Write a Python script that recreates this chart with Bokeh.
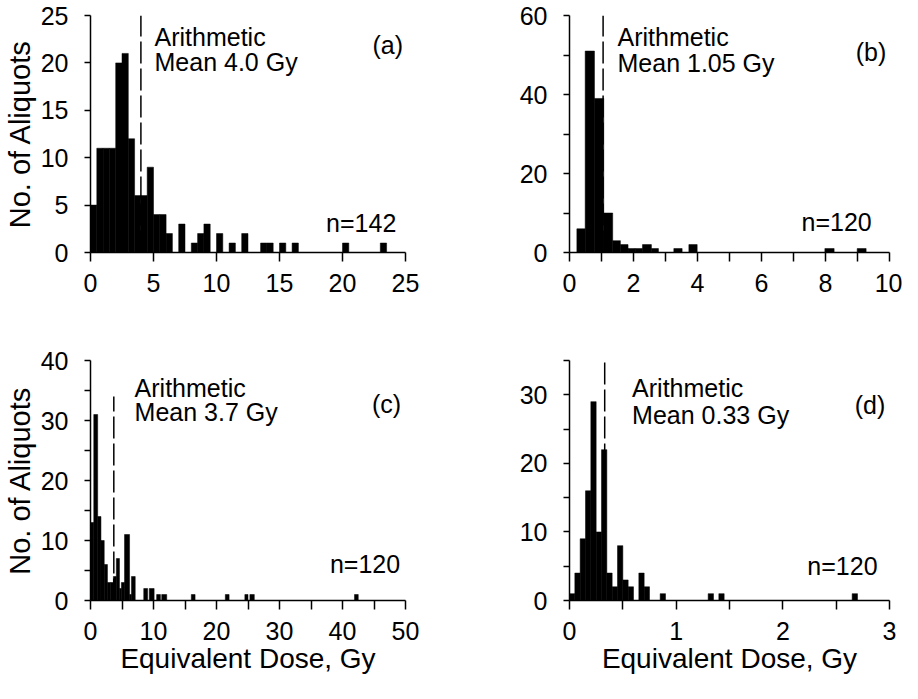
from bokeh.plotting import figure
from bokeh.models import FixedTicker, Label, Range1d
from bokeh.layouts import column, row
from bokeh.embed import file_html
from bokeh.resources import INLINE

# ---------------- data ----------------
# Panel (a)
a_left = [0, 0.5, 1.0, 1.5, 2.0, 2.5, 3.0, 3.5, 4.0, 4.5, 5.0, 5.5, 6.0, 7.0, 8.0, 8.5,
          9.0, 10.0, 11.0, 12.0, 13.5, 14.0, 15.0, 16.0, 20.0, 23.0]
a_right = [x + 0.5 for x in a_left]
a_count = [5, 11, 11, 11, 20, 21, 12, 6, 6, 9, 4, 4, 2, 3, 1, 2, 3, 2, 1, 2, 1, 1, 1, 1, 1, 1]

# Panel (b)
b_left = [0.23, 0.49, 0.78, 1.07, 1.35, 1.59, 1.83, 2.05, 2.28, 2.56, 3.26, 3.73, 7.98, 8.99]
b_right = [0.49, 0.78, 1.07, 1.35, 1.59, 1.83, 2.05, 2.28, 2.56, 2.78, 3.52, 3.99, 8.27, 9.27]
b_count = [6, 51, 39, 10, 3, 2, 1, 1, 2, 1, 1, 2, 1, 1]

# Panel (c)
c_left = [0.0, 0.52, 1.14, 1.66, 2.18, 2.69, 3.21, 3.63, 4.10, 4.60, 4.90, 5.40, 6.20, 6.50,
          8.45, 9.33, 10.5, 11.3, 16.0, 21.4, 24.5, 25.3, 41.9]
c_right = [0.52, 1.14, 1.66, 2.18, 2.69, 3.21, 3.63, 4.10, 4.60, 4.90, 5.40, 6.20, 6.50, 7.10,
           9.07, 10.1, 11.1, 12.1, 16.6, 22.0, 25.0, 26.0, 42.5]
c_count = [13, 31, 14, 10, 6, 3, 3, 4, 7, 2, 3, 11, 1, 4, 2, 2, 1, 1, 1, 1, 1, 1, 1]

# Panel (d)
d_left = [0, 0.05, 0.1, 0.15, 0.2, 0.25, 0.3, 0.35, 0.4, 0.45, 0.5, 0.55, 0.65, 0.7, 0.85,
          1.3, 1.4, 2.65]
d_right = [x + 0.05 for x in d_left]
d_count = [1, 4, 9, 16, 29, 10, 22, 4, 2, 8, 3, 2, 4, 2, 1, 1, 1, 1]

means = [4.0, 1.05, 3.7, 0.33]
mean_tops = [25, 60, 34, 35]
mean_texts = ["Mean 4.0 Gy", "Mean 1.05 Gy", "Mean 3.7 Gy", "Mean 0.33 Gy"]
n_texts = ["n=142", "n=120", "n=120", "n=120"]
panel_tags = ["(a)", "(b)", "(c)", "(d)"]

x_ranges = [(0, 25), (0, 10), (0, 50), (0, 3)]
y_ranges = [(0, 25), (0, 60), (0, 40), (0, 35)]
x_major = [[0, 5, 10, 15, 20, 25], [0, 2, 4, 6, 8, 10], [0, 10, 20, 30, 40, 50], [0, 1, 2, 3]]
x_minor = [[], [1, 3, 5, 7, 9], [5, 15, 25, 35, 45], [0.5, 1.5, 2.5]]
y_major = [[0, 5, 10, 15, 20, 25], [0, 20, 40, 60], [0, 10, 20, 30, 40], [0, 10, 20, 30]]
y_minor = [[], [10, 30, 50], [5, 15, 25, 35], [5, 15, 25, 35]]

# label positions (data coords)
arith_pos = [(5.08, 22.7, 20.1), (1.5, 54.6, 48.0), (7.0, 35.5, 31.4), (0.587, 31.0, 27.0)]
tag_pos = [(24.8, 21.9), (9.9, 50.8), (49.3, 32.7), (2.96, 28.5)]
n_pos = [(18.7, 3.1), (7.25, 7.6), (38.0, 6.1), (2.23, 5.1)]

FONT = "Liberation Sans"

data = [(a_left, a_right, a_count), (b_left, b_right, b_count),
        (c_left, c_right, c_count), (d_left, d_right, d_count)]

geom = [
    dict(width=450, height=332, min_border_left=85, min_border_right=45, min_border_top=15, min_border_bottom=80),
    dict(width=452, height=332, min_border_left=119, min_border_right=13, min_border_top=15, min_border_bottom=80),
    dict(width=450, height=351, min_border_left=85, min_border_right=45, min_border_top=28, min_border_bottom=83),
    dict(width=452, height=351, min_border_left=119, min_border_right=13, min_border_top=28, min_border_bottom=83),
]

figs = []
for i in range(4):
    g = geom[i]
    p = figure(width=g["width"], height=g["height"],
               x_range=Range1d(*x_ranges[i]), y_range=Range1d(*y_ranges[i]),
               output_backend="svg", toolbar_location=None,
               min_border_left=g["min_border_left"], min_border_right=g["min_border_right"],
               min_border_top=g["min_border_top"], min_border_bottom=g["min_border_bottom"])
    p.outline_line_color = None
    p.grid.visible = False
    p.background_fill_color = "white"
    p.border_fill_color = "white"

    # mean line (under bars)
    p.segment(x0=[means[i]], y0=[0], x1=[means[i]], y1=[mean_tops[i]],
              line_color="black", line_width=1.5, line_dash="22 5")

    left, right, count = data[i]
    p.quad(left=left, right=right, bottom=[0] * len(count), top=count,
           fill_color="black", line_color="black", line_width=0.5)

    p.xaxis.ticker = FixedTicker(ticks=x_major[i], minor_ticks=x_minor[i])
    p.yaxis.ticker = FixedTicker(ticks=y_major[i], minor_ticks=y_minor[i])
    for ax in (p.xaxis[0], p.yaxis[0]):
        ax.axis_line_width = 1.5
        ax.axis_line_color = "black"
        ax.major_tick_line_width = 1.5
        ax.minor_tick_line_width = 1.5
        ax.major_tick_line_color = "black"
        ax.minor_tick_line_color = "black"
        ax.major_tick_in = 0
        ax.minor_tick_in = 0
        ax.major_label_text_font = FONT
        ax.major_label_text_font_size = "25px"
        ax.major_label_text_color = "black"
        ax.axis_label_text_font = FONT
        ax.axis_label_text_font_style = "normal"
        ax.axis_label_text_color = "black"
    p.xaxis.major_tick_out = 9
    p.xaxis.minor_tick_out = 9
    p.yaxis.major_tick_out = 6
    p.yaxis.minor_tick_out = 6
    p.yaxis.major_label_standoff = 16
    p.xaxis.major_label_standoff = 12
    if i in (0, 2):
        p.yaxis.axis_label = "No. of Aliquots"
        p.yaxis.axis_label_text_font_size = "29px"
        p.yaxis.axis_label_standoff = 2
    if i in (2, 3):
        p.xaxis.axis_label = "Equivalent Dose, Gy"
        p.xaxis.axis_label_text_font_size = "28px"
        p.xaxis.axis_label_standoff = 0

    ax_, y1, y2 = arith_pos[i]
    p.add_layout(Label(x=ax_, y=y1, text="Arithmetic", text_font=FONT, text_font_size="25px",
                       text_color="black", text_baseline="alphabetic", text_align="left"))
    p.add_layout(Label(x=ax_, y=y2, text=mean_texts[i], text_font=FONT, text_font_size="25px",
                       text_color="black", text_baseline="alphabetic", text_align="left"))
    tx, ty = tag_pos[i]
    p.add_layout(Label(x=tx, y=ty, text=panel_tags[i], text_font=FONT, text_font_size="25px",
                       text_color="black", text_baseline="alphabetic", text_align="right"))
    nx, ny = n_pos[i]
    p.add_layout(Label(x=nx, y=ny, text=n_texts[i], text_font=FONT, text_font_size="25px",
                       text_color="black", text_baseline="alphabetic", text_align="left"))
    figs.append(p)

layout = column(row(figs[0], figs[1]), row(figs[2], figs[3]))
open("out.html", "w").write(file_html(layout, INLINE))
